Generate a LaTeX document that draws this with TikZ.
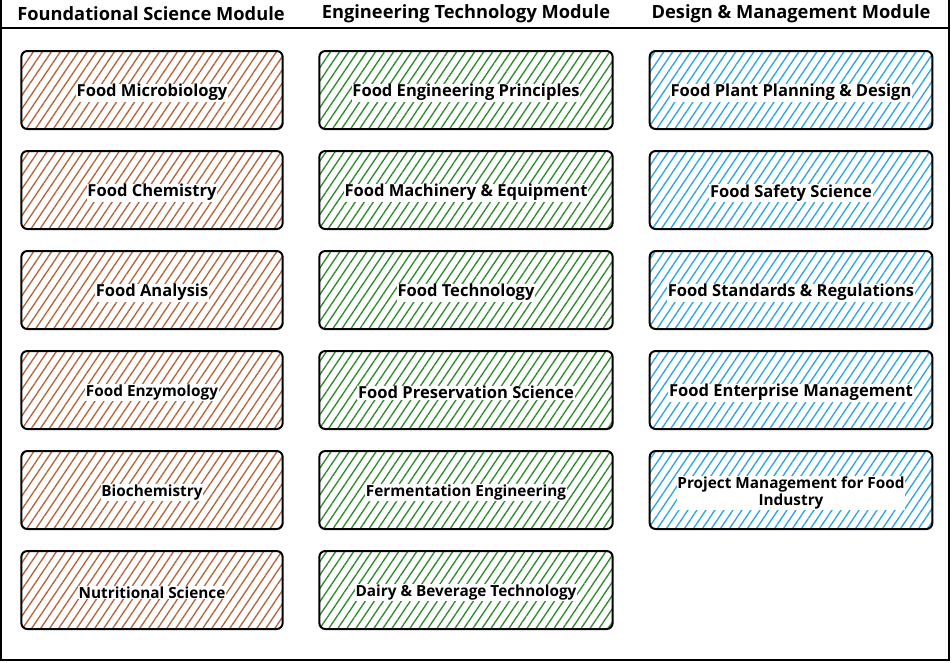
\documentclass[tikz,border=0pt]{standalone}
\usepackage{fontspec}
\setmainfont{Open Sans}
\usetikzlibrary{patterns.meta}
\definecolor{brn}{HTML}{B5643C}
\definecolor{grn}{HTML}{2E8B2E}
\definecolor{blu}{HTML}{2AA6E0}
\tikzset{box/.style={rectangle,draw=black,line width=1.5pt,rounded corners=4.5pt,
    minimum height=58.5pt,inner sep=0pt,
    pattern={Lines[angle=56,distance=5.6pt,line width=1pt]}}}
\tikzset{sci/.style={box,minimum width=196pt,pattern color=brn}}
\tikzset{eng/.style={box,minimum width=220pt,pattern color=grn}}
\tikzset{dsn/.style={box,minimum width=212pt,pattern color=blu}}
\tikzset{txt/.style={fill=white,inner sep=0.6pt,align=center,yshift=-2pt,
    font=\bfseries\fontsize{12.4pt}{13pt}\selectfont}}
\tikzset{txtsm/.style={txt,font=\bfseries\fontsize{11.5pt}{12.8pt}\selectfont}}
\tikzset{hdr/.style={inner sep=0pt,font=\bfseries\fontsize{13.7pt}{16pt}\selectfont}}

\begin{document}
\begin{tikzpicture}[x=0.75pt,y=-0.75pt]
      \useasboundingbox[fill=white] (0,0) rectangle (952,662);
      \draw[line width=1pt] (1,0) -- (1,660) -- (949,660) -- (949,0);
      \draw[line width=1pt] (1,28) -- (949,28);
      \node[hdr] (HS) at (151,14) {Foundational Science Module};
      \node[hdr] (HE) at (466,14) {Engineering Technology Module};
      \node[hdr] (HD) at (791,14) {Design \& Management Module};
      \node[sci] (S1) at (152,90) {};
      \node[sci] (S2) at (152,190) {};
      \node[sci] (S3) at (152,290) {};
      \node[sci] (S4) at (152,390) {};
      \node[sci] (S5) at (152,490) {};
      \node[sci] (S6) at (152,590) {};
      \node[eng] (E1) at (466,90) {};
      \node[eng] (E2) at (466,190) {};
      \node[eng] (E3) at (466,290) {};
      \node[eng] (E4) at (466,390) {};
      \node[eng] (E5) at (466,490) {};
      \node[eng] (E6) at (466,590) {};
      \node[dsn] (D1) at (791,90) {};
      \node[dsn] (D2) at (791,190) {};
      \node[dsn] (D3) at (791,290) {};
      \node[dsn] (D4) at (791,390) {};
      \node[dsn] (D5) at (791,490) {};
      \foreach \n/\t in {S1/Food Microbiology,S2/Food Chemistry,S3/Food Analysis,
          E1/Food Engineering Principles,E2/Food Machinery \& Equipment,
          E3/Food Technology,E4/Food Preservation Science,
          D1/Food Plant Planning \& Design,D2/Food Safety Science,
          D3/Food Standards \& Regulations,D4/Food Enterprise Management}
        \node[txt] (t\n) at (\n) {\t};
      \foreach \n/\t in {S4/Food Enzymology,S5/Biochemistry,S6/Nutritional Science,
          E5/Fermentation Engineering,E6/Dairy \& Beverage Technology,
          D5/Project Management for Food\\Industry}
        \node[txtsm] (t\n) at (\n) {\t};
    \end{tikzpicture}
\end{document}
